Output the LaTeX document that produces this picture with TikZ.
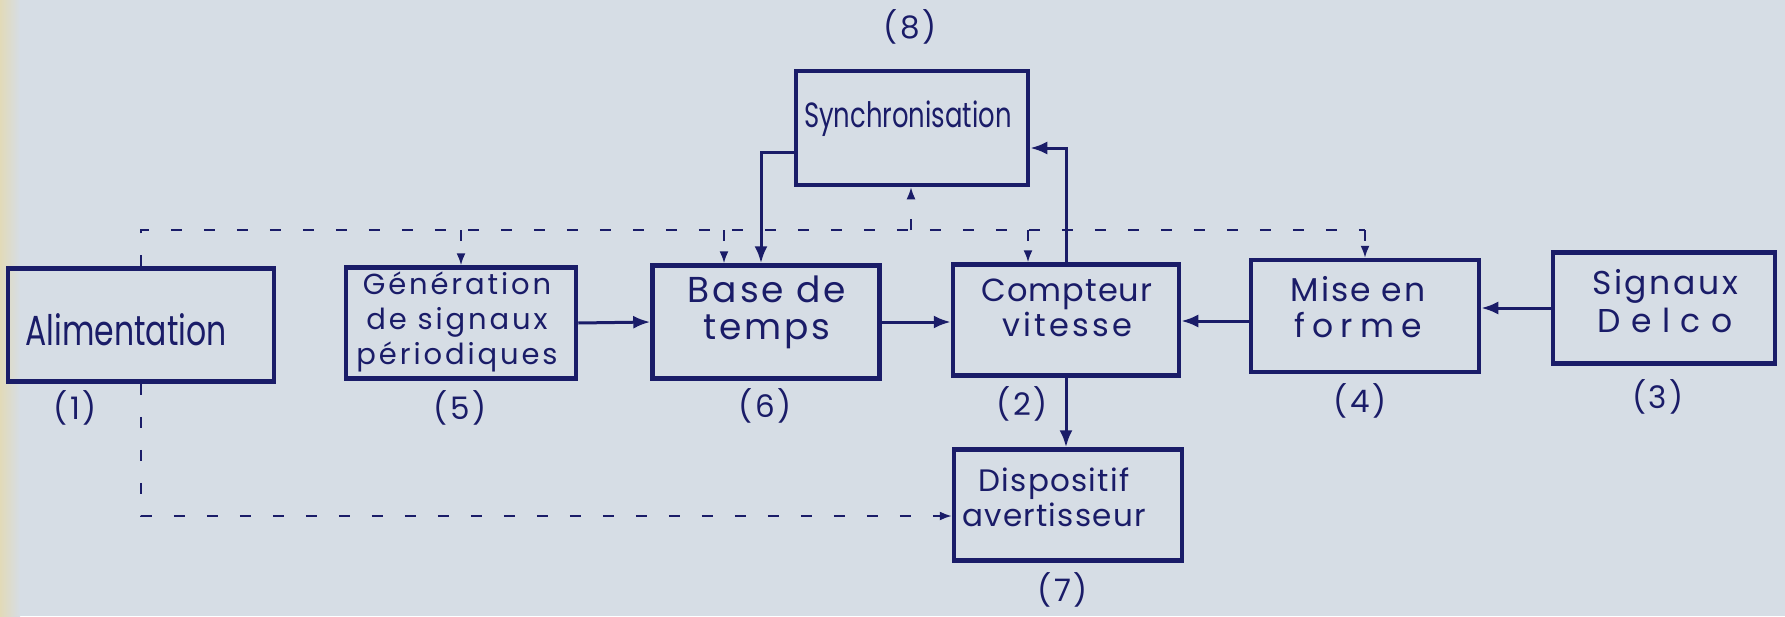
\documentclass[tikz,border=0pt]{standalone}
\usepackage{fontspec}
\setmainfont{Poppins}
\usetikzlibrary{arrows.meta}
\definecolor{ink}{RGB}{26,28,104}
\definecolor{paper}{RGB}{214,221,229}
\definecolor{paperedge}{RGB}{226,218,184}

\begin{document}
\begin{tikzpicture}[x=1pt,y=1pt,yscale=-1,xscale=1,
  blk/.style 2 args={draw=ink,line width=4.5pt,minimum width=#1,minimum height=#2,inner sep=0pt},
  txt/.style={text=ink,align=center,inner sep=0pt},
  num/.style={text=ink,inner sep=0pt,font={\fontsize{31}{31}\selectfont\addfontfeatures{LetterSpace=8}}},
  wire/.style={draw=ink,line width=3pt,-{Latex[length=17pt,width=13pt]}},
  bus/.style={draw=ink,line width=1.8pt,dash pattern=on 11pt off 22pt},
  busarrow/.style={bus,-{Latex[length=12pt,width=9pt]}}]

%Background
\fill[paper] (0,0) rectangle (1785,616);
\shade[left color=paperedge,right color=paper] (0,0) rectangle (20,616);
\useasboundingbox (0,0) rectangle (1785,616);

%Shape: Rectangle (blocks)
\node[blk={232pt}{114pt}] (sync) at (912,128) {};
\node[blk={266pt}{113pt}] (alim) at (141,325) {};
\node[blk={230pt}{111pt}] (gen) at (461,323) {};
\node[blk={227pt}{113pt}] (base) at (766,322) {};
\node[blk={226pt}{111pt}] (comp) at (1066,320) {};
\node[blk={228pt}{111pt}] (disp) at (1068,505) {};
\node[blk={228pt}{112pt}] (mise) at (1365,316) {};
\node[blk={222pt}{111pt}] (sig) at (1664,308) {};

% Text Node
\node[txt,font={\fontsize{35}{35}\selectfont\addfontfeatures{FakeStretch=0.74}}] (sync-t) at (908,119) {Synchronisation};
% Text Node
\node[txt,font={\fontsize{42}{42}\selectfont\addfontfeatures{FakeStretch=0.75}}] (alim-t) at (126,330) {Alimentation};
% Text Node
\node[txt,font={\fontsize{29}{35}\selectfont\addfontfeatures{LetterSpace=10}}] (gen-t) at (457,322) {Génération\\de signaux\\périodiques};
% Text Node
\node[txt,font={\fontsize{36}{37}\selectfont\addfontfeatures{LetterSpace=8}}] (base-t) at (767,312) {Base de\\temps};
% Text Node
\node[txt,font={\fontsize{32}{35}\selectfont}] (comp-t) at (1067,308) {{\addfontfeatures{LetterSpace=3}Compteur}\\{\addfontfeatures{LetterSpace=10}vitesse}};
% Text Node
\node[txt,font={\fontsize{33}{36}\selectfont}] (mise-t) at (1358,307) {{\addfontfeatures{LetterSpace=6}Mise en}\\{\addfontfeatures{LetterSpace=22}forme}};
% Text Node
\node[txt,font={\fontsize{33}{38}\selectfont}] (sig-t) at (1665,301) {{\addfontfeatures{LetterSpace=8}Signaux}\\{\addfontfeatures{LetterSpace=32}Delco}};
% Text Node
\node[txt,font={\fontsize{31}{35}\selectfont\addfontfeatures{LetterSpace=4}}] (disp-t) at (1054,497) {Dispositif\\avertisseur};

% Text Node (numbers)
\node[num] (n8) at (910,27) {(8)};
\node[num] (n1) at (75,408) {(1)};
\node[num] (n5) at (460,408) {(5)};
\node[num] (n6) at (765,406) {(6)};
\node[num] (n2) at (1022,404) {(2)};
\node[num] (n4) at (1360,401) {(4)};
\node[num] (n3) at (1658,397) {(3)};
\node[num] (n7) at (1063,590) {(7)};

%Straight Lines (signal path)
\draw[wire] (gen.east) -- (base.west);
\draw[wire] (base.east) -- (base.east -| comp.west);
\draw[wire] ([yshift=5pt]mise.west) -- ([yshift=5pt]mise.west -| comp.east);
\draw[wire] (sig.west) -- (sig.west -| mise.east);
\draw[wire] (comp.south) -- (comp.south |- disp.north);
\draw[wire] ([yshift=24pt]sync.west) -| ([xshift=-5pt]base.north);
\draw[wire] (comp.north) |- ([yshift=20pt]sync.east);

%Straight Lines (supply, dashed)
\coordinate (busy) at (0,230);
\coordinate (lowy) at (0,516);
\coordinate (basebus) at ([xshift=-42pt]base.north);
\coordinate (compbus) at ([xshift=-38pt]comp.north);
\coordinate (syncbus) at ([xshift=-1pt]sync.south);
\draw[bus] (alim.north) -- (alim.north |- busy) -- (mise.north |- busy);
\draw[busarrow] (gen.north |- busy) -- (gen.north);
\draw[busarrow] (basebus |- busy) -- (basebus);
\draw[busarrow] (syncbus |- busy) -- (syncbus);
\draw[busarrow] (compbus |- busy) -- (compbus);
\draw[busarrow] (mise.north |- busy) -- (mise.north);
\draw[busarrow] (alim.south) -- (alim.south |- lowy) -- (disp.west |- lowy);

\end{tikzpicture}
\end{document}
